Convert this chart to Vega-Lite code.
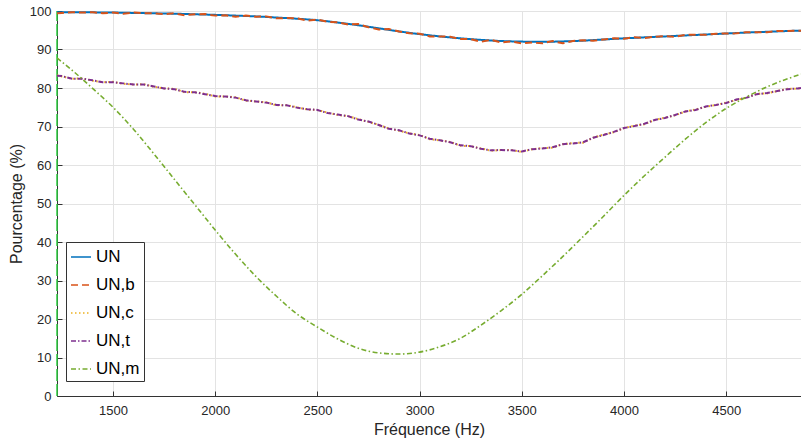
{
  "$schema": "https://vega.github.io/schema/vega-lite/v6.json",
  "width": 744,
  "height": 385,
  "autosize": {"type": "none"},
  "padding": {"left": 57, "top": 11, "right": 0, "bottom": 46},
  "background": "white",
  "config": {
    "view": {"stroke": null},
    "font": "Liberation Sans",
    "axis": {
      "labelFont": "Liberation Sans",
      "labelFontSize": 13,
      "labelColor": "#262626",
      "titleFont": "Liberation Sans",
      "titleFontSize": 16,
      "titleFontWeight": "normal",
      "titleColor": "#262626",
      "domainColor": "#333333",
      "domainWidth": 1,
      "tickColor": "#333333",
      "tickSize": -5,
      "gridColor": "#e3e3e3",
      "gridWidth": 1
    },
    "axisY": {"labelPadding": 11, "titlePadding": 5},
    "legend": {
      "orient": "none",
      "legendX": 9,
      "legendY": 231,
      "title": null,
      "strokeColor": "#333333",
      "fillColor": "white",
      "padding": 4,
      "labelFont": "Liberation Sans",
      "labelFontSize": 17,
      "labelColor": "#000000",
      "labelOffset": 4,
      "symbolType": "stroke",
      "symbolSize": 400,
      "symbolStrokeWidth": 1.5,
      "rowPadding": 9
    }
  },
  "datasets": {
    "edge": [{"f": 1226, "lo": 0, "hi": 100}],
    "s": [
      {"f": 1226, "UN": 99.7, "UN,m": 87.8},
      {"f": 1300, "UN": 99.7, "UN,m": 84.6},
      {"f": 1400, "UN": 99.65, "UN,m": 79.9},
      {"f": 1500, "UN": 99.6, "UN,m": 75.0},
      {"f": 1600, "UN": 99.5, "UN,m": 69.3},
      {"f": 1700, "UN": 99.4, "UN,m": 62.9},
      {"f": 1800, "UN": 99.3, "UN,m": 56.3},
      {"f": 1900, "UN": 99.15, "UN,m": 49.7},
      {"f": 2000, "UN": 99.0, "UN,m": 43.1},
      {"f": 2100, "UN": 98.8, "UN,m": 36.8},
      {"f": 2200, "UN": 98.6, "UN,m": 31.0},
      {"f": 2300, "UN": 98.3, "UN,m": 25.9},
      {"f": 2400, "UN": 98.0, "UN,m": 21.3},
      {"f": 2500, "UN": 97.6, "UN,m": 17.9},
      {"f": 2600, "UN": 97.0, "UN,m": 14.8},
      {"f": 2700, "UN": 96.3, "UN,m": 12.4},
      {"f": 2800, "UN": 95.5, "UN,m": 11.2},
      {"f": 2900, "UN": 94.7, "UN,m": 10.9},
      {"f": 3000, "UN": 94.0, "UN,m": 11.4},
      {"f": 3100, "UN": 93.4, "UN,m": 12.8},
      {"f": 3200, "UN": 92.9, "UN,m": 15.0},
      {"f": 3300, "UN": 92.5, "UN,m": 18.4},
      {"f": 3400, "UN": 92.2, "UN,m": 22.2},
      {"f": 3500, "UN": 92.05, "UN,m": 26.4},
      {"f": 3600, "UN": 92.0, "UN,m": 31.2},
      {"f": 3700, "UN": 92.1, "UN,m": 36.2},
      {"f": 3800, "UN": 92.3, "UN,m": 41.4},
      {"f": 3900, "UN": 92.6, "UN,m": 46.7},
      {"f": 4000, "UN": 92.9, "UN,m": 52.1},
      {"f": 4100, "UN": 93.15, "UN,m": 57.2},
      {"f": 4200, "UN": 93.4, "UN,m": 62.0},
      {"f": 4300, "UN": 93.65, "UN,m": 66.7},
      {"f": 4400, "UN": 93.9, "UN,m": 71.0},
      {"f": 4500, "UN": 94.15, "UN,m": 74.7},
      {"f": 4600, "UN": 94.4, "UN,m": 77.7},
      {"f": 4700, "UN": 94.6, "UN,m": 80.3},
      {"f": 4800, "UN": 94.8, "UN,m": 82.4},
      {"f": 4866, "UN": 94.9, "UN,m": 83.6}
    ],
    "n": [
      {"f": 1226, "UN,b": 99.4, "UN,c": 83.3, "UN,t": 83.2},
      {"f": 1250, "UN,b": 99.5, "UN,c": 83.0, "UN,t": 83.1},
      {"f": 1300, "UN,b": 99.7, "UN,c": 82.4, "UN,t": 82.4},
      {"f": 1350, "UN,b": 99.6, "UN,c": 82.5, "UN,t": 82.4},
      {"f": 1400, "UN,b": 99.7, "UN,c": 81.9, "UN,t": 82.0},
      {"f": 1450, "UN,b": 99.4, "UN,c": 81.5, "UN,t": 81.5},
      {"f": 1500, "UN,b": 99.6, "UN,c": 81.6, "UN,t": 81.5},
      {"f": 1550, "UN,b": 99.3, "UN,c": 81.1, "UN,t": 81.2},
      {"f": 1600, "UN,b": 99.6, "UN,c": 80.9, "UN,t": 80.9},
      {"f": 1650, "UN,b": 99.4, "UN,c": 81.0, "UN,t": 80.9},
      {"f": 1700, "UN,b": 99.4, "UN,c": 80.3, "UN,t": 80.4},
      {"f": 1750, "UN,b": 99.2, "UN,c": 79.9, "UN,t": 79.9},
      {"f": 1800, "UN,b": 99.4, "UN,c": 79.8, "UN,t": 79.7},
      {"f": 1850, "UN,b": 98.9, "UN,c": 78.9, "UN,t": 79.0},
      {"f": 1900, "UN,b": 99.15, "UN,c": 78.9, "UN,t": 78.9},
      {"f": 1950, "UN,b": 99.2, "UN,c": 78.5, "UN,t": 78.4},
      {"f": 2000, "UN,b": 98.8, "UN,c": 77.8, "UN,t": 77.9},
      {"f": 2050, "UN,b": 98.9, "UN,c": 77.8, "UN,t": 77.8},
      {"f": 2100, "UN,b": 98.5, "UN,c": 77.6, "UN,t": 77.5},
      {"f": 2150, "UN,b": 98.8, "UN,c": 76.7, "UN,t": 76.8},
      {"f": 2200, "UN,b": 98.5, "UN,c": 76.5, "UN,t": 76.5},
      {"f": 2250, "UN,b": 98.6, "UN,c": 76.3, "UN,t": 76.2},
      {"f": 2300, "UN,b": 98.1, "UN,c": 75.5, "UN,t": 75.6},
      {"f": 2350, "UN,b": 98.15, "UN,c": 75.5, "UN,t": 75.5},
      {"f": 2400, "UN,b": 98.1, "UN,c": 75.0, "UN,t": 74.9},
      {"f": 2450, "UN,b": 97.5, "UN,c": 74.4, "UN,t": 74.5},
      {"f": 2500, "UN,b": 97.8, "UN,c": 74.3, "UN,t": 74.3},
      {"f": 2550, "UN,b": 97.2, "UN,c": 73.6, "UN,t": 73.5},
      {"f": 2600, "UN,b": 97.1, "UN,c": 73.0, "UN,t": 73.1},
      {"f": 2650, "UN,b": 96.5, "UN,c": 72.7, "UN,t": 72.7},
      {"f": 2700, "UN,b": 96.6, "UN,c": 71.9, "UN,t": 71.8},
      {"f": 2750, "UN,b": 95.8, "UN,c": 71.2, "UN,t": 71.3},
      {"f": 2800, "UN,b": 95.2, "UN,c": 70.4, "UN,t": 70.4},
      {"f": 2850, "UN,b": 95.3, "UN,c": 69.5, "UN,t": 69.4},
      {"f": 2900, "UN,b": 94.7, "UN,c": 68.9, "UN,t": 69.0},
      {"f": 2950, "UN,b": 94.2, "UN,c": 68.2, "UN,t": 68.2},
      {"f": 3000, "UN,b": 94.1, "UN,c": 67.8, "UN,t": 67.7},
      {"f": 3050, "UN,b": 93.4, "UN,c": 66.7, "UN,t": 66.8},
      {"f": 3100, "UN,b": 93.4, "UN,c": 66.4, "UN,t": 66.4},
      {"f": 3150, "UN,b": 93.3, "UN,c": 66.0, "UN,t": 65.9},
      {"f": 3200, "UN,b": 92.7, "UN,c": 65.0, "UN,t": 65.1},
      {"f": 3250, "UN,b": 92.7, "UN,c": 64.9, "UN,t": 64.9},
      {"f": 3300, "UN,b": 92.0, "UN,c": 64.3, "UN,t": 64.2},
      {"f": 3350, "UN,b": 92.5, "UN,c": 63.7, "UN,t": 63.8},
      {"f": 3400, "UN,b": 91.8, "UN,c": 63.9, "UN,t": 63.9},
      {"f": 3450, "UN,b": 92.1, "UN,c": 63.9, "UN,t": 63.8},
      {"f": 3500, "UN,b": 91.6, "UN,c": 63.4, "UN,t": 63.5},
      {"f": 3550, "UN,b": 91.8, "UN,c": 64.1, "UN,t": 64.1},
      {"f": 3600, "UN,b": 91.6, "UN,c": 64.4, "UN,t": 64.3},
      {"f": 3650, "UN,b": 92.2, "UN,c": 64.5, "UN,t": 64.6},
      {"f": 3700, "UN,b": 91.6, "UN,c": 65.4, "UN,t": 65.4},
      {"f": 3750, "UN,b": 92.2, "UN,c": 65.7, "UN,t": 65.6},
      {"f": 3800, "UN,b": 92.4, "UN,c": 65.8, "UN,t": 65.9},
      {"f": 3850, "UN,b": 92.3, "UN,c": 67.1, "UN,t": 67.1},
      {"f": 3900, "UN,b": 92.6, "UN,c": 67.9, "UN,t": 67.8},
      {"f": 3950, "UN,b": 92.9, "UN,c": 68.5, "UN,t": 68.6},
      {"f": 4000, "UN,b": 92.8, "UN,c": 69.6, "UN,t": 69.6},
      {"f": 4050, "UN,b": 93.2, "UN,c": 70.2, "UN,t": 70.1},
      {"f": 4100, "UN,b": 93.0, "UN,c": 70.6, "UN,t": 70.7},
      {"f": 4150, "UN,b": 93.3, "UN,c": 71.7, "UN,t": 71.7},
      {"f": 4200, "UN,b": 93.5, "UN,c": 72.3, "UN,t": 72.2},
      {"f": 4250, "UN,b": 93.3, "UN,c": 72.9, "UN,t": 73.0},
      {"f": 4300, "UN,b": 93.8, "UN,c": 73.9, "UN,t": 73.9},
      {"f": 4350, "UN,b": 93.8, "UN,c": 74.4, "UN,t": 74.3},
      {"f": 4400, "UN,b": 93.8, "UN,c": 75.1, "UN,t": 75.2},
      {"f": 4450, "UN,b": 94.1, "UN,c": 75.6, "UN,t": 75.6},
      {"f": 4500, "UN,b": 94.15, "UN,c": 76.2, "UN,t": 76.1},
      {"f": 4550, "UN,b": 94.2, "UN,c": 76.9, "UN,t": 77.0},
      {"f": 4600, "UN,b": 94.5, "UN,c": 77.5, "UN,t": 77.5},
      {"f": 4650, "UN,b": 94.5, "UN,c": 78.5, "UN,t": 78.4},
      {"f": 4700, "UN,b": 94.5, "UN,c": 78.6, "UN,t": 78.7},
      {"f": 4750, "UN,b": 94.8, "UN,c": 79.2, "UN,t": 79.2},
      {"f": 4800, "UN,b": 94.8, "UN,c": 79.8, "UN,t": 79.7},
      {"f": 4850, "UN,b": 94.9, "UN,c": 79.8, "UN,t": 79.9},
      {"f": 4866, "UN,b": 94.9, "UN,c": 80.0, "UN,t": 80.0}
    ]
  },
  "encoding": {
    "x": {
      "field": "f",
      "type": "quantitative",
      "scale": {"domain": [1226, 4866], "nice": false, "zero": false},
      "axis": {
        "title": "Fréquence (Hz)",
        "values": [1500, 2000, 2500, 3000, 3500, 4000, 4500],
        "format": "d",
        "labelPadding": 13,
        "titlePadding": 4,
        "labelFlush": false
      }
    }
  },
  "layer": [
    {
      "data": {"name": "edge"},
      "mark": {"type": "rule", "color": "#2ecc40", "strokeWidth": 1.5, "strokeDash": [12, 3]},
      "encoding": {
        "y": {
          "field": "lo",
          "type": "quantitative",
          "scale": {"domain": [0, 100], "nice": false},
          "axis": {"title": "Pourcentage (%)", "values": [0, 10, 20, 30, 40, 50, 60, 70, 80, 90, 100]}
        },
        "y2": {"field": "hi"}
      }
    },
    {
      "data": {"name": "s"},
      "transform": [{"fold": ["UN"], "as": ["s", "v"]}],
      "mark": {"type": "line", "strokeWidth": 2, "clip": true, "interpolate": "monotone"},
      "encoding": {
        "y": {"field": "v", "type": "quantitative", "axis": {"title": "Pourcentage (%)", "values": [0, 10, 20, 30, 40, 50, 60, 70, 80, 90, 100]}},
        "color": {"field": "s", "type": "nominal", "scale": {"domain": ["UN", "UN,b", "UN,c", "UN,t", "UN,m"], "range": ["#0072BD", "#D95319", "#EDB120", "#7E2F8E", "#77AC30"]}},
        "strokeDash": {"field": "s", "type": "nominal", "scale": {"domain": ["UN", "UN,b", "UN,c", "UN,t", "UN,m"], "range": [[1, 0], [7, 4], [1.5, 2.5], [5, 2, 1.5, 2], [5, 2.5, 1.5, 2.5]]}}
      }
    },
    {
      "data": {"name": "n"},
      "transform": [{"fold": ["UN,b"], "as": ["s", "v"]}],
      "mark": {"type": "line", "strokeWidth": 2, "clip": true},
      "encoding": {
        "y": {"field": "v", "type": "quantitative", "axis": {"title": "Pourcentage (%)", "values": [0, 10, 20, 30, 40, 50, 60, 70, 80, 90, 100]}},
        "color": {"field": "s", "type": "nominal"},
        "strokeDash": {"field": "s", "type": "nominal"}
      }
    },
    {
      "data": {"name": "n"},
      "transform": [{"fold": ["UN,c"], "as": ["s", "v"]}],
      "mark": {"type": "line", "strokeWidth": 2, "clip": true},
      "encoding": {
        "y": {"field": "v", "type": "quantitative", "axis": {"title": "Pourcentage (%)", "values": [0, 10, 20, 30, 40, 50, 60, 70, 80, 90, 100]}},
        "color": {"field": "s", "type": "nominal"},
        "strokeDash": {"field": "s", "type": "nominal"}
      }
    },
    {
      "data": {"name": "n"},
      "transform": [{"fold": ["UN,t"], "as": ["s", "v"]}],
      "mark": {"type": "line", "strokeWidth": 2, "clip": true},
      "encoding": {
        "y": {"field": "v", "type": "quantitative", "axis": {"title": "Pourcentage (%)", "values": [0, 10, 20, 30, 40, 50, 60, 70, 80, 90, 100]}},
        "color": {"field": "s", "type": "nominal"},
        "strokeDash": {"field": "s", "type": "nominal"}
      }
    },
    {
      "data": {"name": "s"},
      "transform": [{"fold": ["UN,m"], "as": ["s", "v"]}],
      "mark": {"type": "line", "strokeWidth": 1.6, "clip": true, "interpolate": "monotone"},
      "encoding": {
        "y": {"field": "v", "type": "quantitative", "axis": {"title": "Pourcentage (%)", "values": [0, 10, 20, 30, 40, 50, 60, 70, 80, 90, 100]}},
        "color": {"field": "s", "type": "nominal"},
        "strokeDash": {"field": "s", "type": "nominal"}
      }
    }
  ]
}
